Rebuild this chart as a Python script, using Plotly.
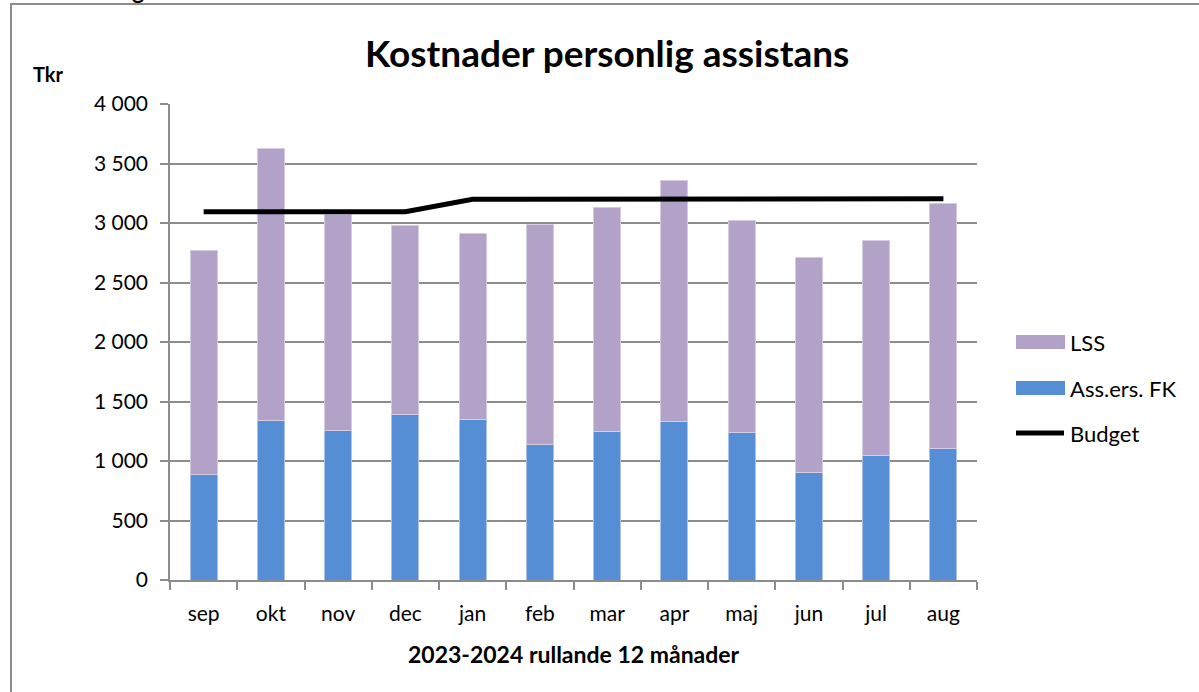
import plotly.graph_objects as go

months = ["sep", "okt", "nov", "dec", "jan", "feb", "mar", "apr", "maj", "jun", "jul", "aug"]
ass_ers_fk = [885, 1339, 1255, 1389, 1347, 1137, 1246, 1330, 1238, 902, 1045, 1101]
lss = [1888, 2291, 1818, 1594, 1561, 1849, 1886, 2029, 1779, 1804, 1812, 2059]
budget = [3095, 3095, 3095, 3095, 3200, 3200, 3200, 3205, 3200, 3200, 3200, 3203]
legend_names = ["LSS", "Ass.ers. FK", "Budget"]

FONT = "Lato"
BLUE = "#558ED5"
PURPLE = "#B3A2C7"
GRID = "#8C8C8C"

# page-pixel helpers (plot area spans x 170..977, y 104..580)
def px(X):
    return (X - 170) / 807

def py(Y):
    return (580 - Y) / 476

fig = go.Figure()
fig.add_trace(go.Bar(x=months, y=ass_ers_fk, name="Ass.ers. FK",
                     marker=dict(color=BLUE, line=dict(color="#A9C3EA", width=1))))
fig.add_trace(go.Bar(x=months, y=lss, name="LSS",
                     marker=dict(color=PURPLE, line=dict(color="#D5CCE3", width=1))))
fig.add_trace(go.Scatter(x=months, y=budget, name="Budget", mode="lines",
                         line=dict(color="black", width=5)))

shapes = [dict(type="rect", xref="paper", yref="paper", x0=px(11), y0=-0.3, x1=1.4, y1=py(4),
               line=dict(color="#8C8C8C", width=2), fillcolor="rgba(0,0,0,0)", layer="below")]
annotations = [
    dict(text="<b>Kostnader personlig assistans</b>", xref="paper", yref="paper", x=px(607), y=py(53),
         xanchor="center", yanchor="middle", showarrow=False, font=dict(family=FONT, size=37)),
    dict(text="<b>Tkr</b>", xref="paper", yref="paper", x=px(48), y=py(74),
         xanchor="center", yanchor="middle", showarrow=False, font=dict(family=FONT, size=20)),
    dict(text="<b>2023-2024 rullande 12 månader</b>", xref="paper", yref="paper", x=px(574), y=py(654),
         xanchor="center", yanchor="middle", showarrow=False, font=dict(family=FONT, size=23)),
    dict(text="<b>g</b>", xref="paper", yref="paper", x=px(138), y=py(6),
         xanchor="center", yanchor="bottom", showarrow=False, font=dict(family=FONT, size=23)),
]

# custom legend
leg_colors = [PURPLE, BLUE, "black"]
leg_y = [342, 388, 433]
for name, col, yc in zip(legend_names, leg_colors, leg_y):
    if name == "Budget":
        shapes.append(dict(type="line", xref="paper", yref="paper", x0=px(1016), x1=px(1064),
                           y0=py(yc), y1=py(yc), line=dict(color=col, width=5)))
    else:
        shapes.append(dict(type="rect", xref="paper", yref="paper", x0=px(1016), x1=px(1065),
                           y0=py(yc - 7), y1=py(yc + 7), line=dict(width=0), fillcolor=col))
    annotations.append(dict(text=name, xref="paper", yref="paper", x=px(1068), y=py(yc),
                            xanchor="left", yanchor="middle", showarrow=False,
                            font=dict(family=FONT, size=22, color="black")))

fig.update_layout(
    width=1199, height=692, autosize=False,
    margin=dict(l=170, r=222, t=104, b=112),
    paper_bgcolor="white", plot_bgcolor="white",
    barmode="stack", bargap=0.6,
    separators=", ",
    font=dict(family=FONT, size=21, color="black"),
    showlegend=False,
    xaxis=dict(type="category", showline=True, linecolor=GRID, linewidth=1.5,
               ticks="outside", tickson="boundaries", ticklen=8, tickcolor=GRID, tickwidth=1.5,
               ticklabelstandoff=14,
               showgrid=False, tickfont=dict(family=FONT, size=21), fixedrange=True),
    yaxis=dict(range=[0, 4000], dtick=500, tickformat=",d", showline=True, linecolor=GRID, linewidth=1.5,
               ticks="outside", ticklen=8, tickcolor=GRID, tickwidth=1.5, ticklabelstandoff=8,
               showgrid=True, gridcolor=GRID, gridwidth=1.5, zeroline=False,
               tickfont=dict(family=FONT, size=21), fixedrange=True),
    shapes=shapes,
    annotations=annotations,
)

fig.write_html("out.html", config={"displayModeBar": False},
               post_script="document.body.style.margin='0';")
